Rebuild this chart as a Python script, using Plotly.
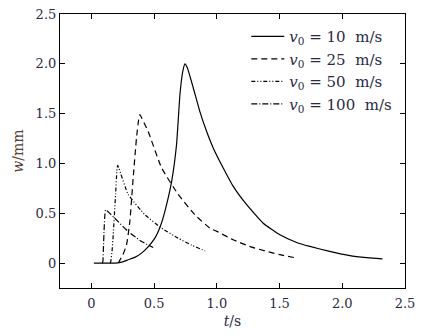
import plotly.graph_objects as go

# Deflection histories w(t) for four impact velocities
t_10 = [0.02, 0.10, 0.19, 0.25, 0.293, 0.35, 0.40, 0.45, 0.506, 0.55, 0.586, 0.64, 0.679, 0.706, 0.728, 0.746,
        0.765, 0.812, 0.865, 0.919, 0.971, 1.051, 1.131, 1.238, 1.37, 1.503, 1.636, 1.742, 1.90, 2.06, 2.194, 2.32]
w_10 = [0.0, 0.0, 0.0, 0.012, 0.033, 0.06, 0.10, 0.16, 0.25, 0.37, 0.52, 0.82, 1.19, 1.69, 1.92, 2.0,
        1.96, 1.76, 1.52, 1.32, 1.156, 0.955, 0.77, 0.586, 0.40, 0.284, 0.207, 0.167, 0.117, 0.075, 0.055, 0.042]

t_25 = [0.215, 0.227, 0.25, 0.28, 0.307, 0.333, 0.36, 0.377, 0.387, 0.40, 0.453, 0.56, 0.692, 0.825, 0.945,
        1.0, 1.13, 1.26, 1.397, 1.53, 1.64]
w_25 = [0.0, 0.03, 0.08, 0.18, 0.42, 0.85, 1.26, 1.44, 1.49, 1.46, 1.32, 0.955, 0.69, 0.485, 0.35,
        0.318, 0.235, 0.168, 0.117, 0.077, 0.05]

t_50 = [0.152, 0.155, 0.165, 0.174, 0.193, 0.203, 0.209, 0.22, 0.293, 0.427, 0.56, 0.692, 0.80, 0.905, 0.92]
w_50 = [0.0, 0.02, 0.12, 0.28, 0.69, 0.92, 0.98, 0.95, 0.69, 0.485, 0.35, 0.25, 0.18, 0.124, 0.12]

t_100 = [0.088, 0.092, 0.097, 0.102, 0.108, 0.113, 0.125, 0.187, 0.293, 0.40, 0.493]
w_100 = [0.0, 0.02, 0.18, 0.35, 0.49, 0.535, 0.525, 0.45, 0.318, 0.217, 0.157]

x_ticks = [0, 0.5, 1.0, 1.5, 2.0, 2.5]
x_labels = ["0", "0.5", "1.0", "1.5", "2.0", "2.5"]
y_ticks = [0, 0.5, 1.0, 1.5, 2.0, 2.5]
y_labels = ["0", "0.5", "1.0", "1.5", "2.0", "2.5"]

series = [
    ("<i>v</i><sub>0</sub> = 10  m/s", t_10, w_10, "solid"),
    ("<i>v</i><sub>0</sub> = 25  m/s", t_25, w_25, "6px,4px"),
    ("<i>v</i><sub>0</sub> = 50  m/s", t_50, w_50, "4px,2px,1px,2px,1px,2px"),
    ("<i>v</i><sub>0</sub> = 100  m/s", t_100, w_100, "6px,2px,1px,2px"),
]

FONT = "DejaVu Serif"
TICK_COLOR = "#2a2a45"

fig = go.Figure()
for name, t, w, dash in series:
    fig.add_trace(go.Scatter(
        x=t, y=w, mode="lines", name=name,
        line=dict(color="black", width=1.2, dash=dash, shape="spline", smoothing=0.4),
    ))

axis_common = dict(
    showline=True, linecolor="black", linewidth=1.2, mirror="ticks",
    ticks="inside", ticklen=5, tickwidth=1, tickcolor="black",
    showgrid=False, zeroline=False, automargin=False,
    tickfont=dict(family=FONT, size=13, color=TICK_COLOR),
)

fig.update_layout(
    width=425, height=336,
    margin=dict(l=60, r=20, t=14, b=48),
    paper_bgcolor="white", plot_bgcolor="white",
    font=dict(family=FONT, size=13, color="black"),
    xaxis=dict(range=[-0.25, 2.5], tickvals=x_ticks, ticktext=x_labels, ticklabelstandoff=3,
               title=dict(text="<i>t</i>/s", standoff=6, font=dict(family=FONT, size=14, color=TICK_COLOR)),
               **axis_common),
    yaxis=dict(range=[-0.25, 2.5], tickvals=y_ticks, ticktext=y_labels,
               title=dict(text="<i>w</i>/mm", standoff=8, font=dict(family=FONT, size=14, color="#5a4034")),
               **axis_common),
    legend=dict(x=0.54, y=0.978, xanchor="left", yanchor="top", bgcolor="rgba(0,0,0,0)",
                itemwidth=33,
                font=dict(family=FONT, size=15, color=TICK_COLOR), tracegroupgap=0),
    showlegend=True,
)

fig.write_html("out.html")
